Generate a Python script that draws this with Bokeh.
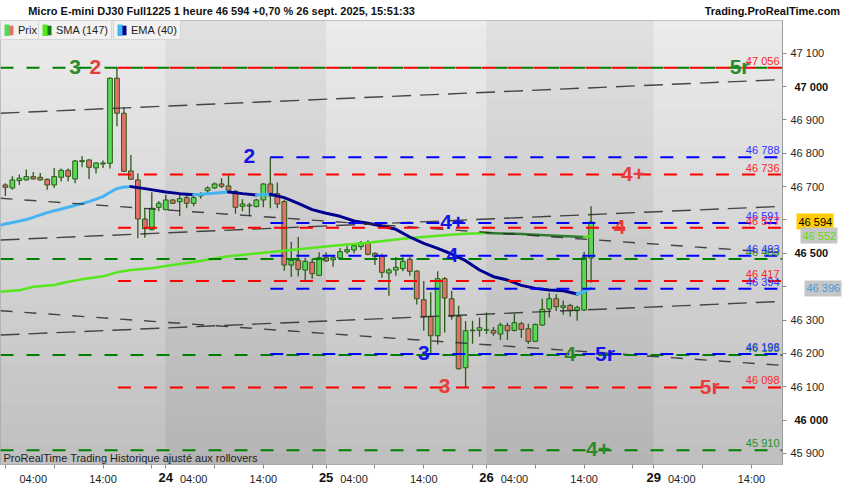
import numpy as np
from bokeh.plotting import figure
from bokeh.models import (ColumnDataSource, Range1d, FixedTicker, Label, Legend,
                          LegendItem, LinearAxis)
from bokeh.core.properties import value
from bokeh.embed import file_html
from bokeh.resources import INLINE

FONT = "Liberation Sans"

# ---------------- data (hourly bars, index 0 = 23 sept 00:00) ----------------
candle_open = [46705, 46696, 46718, 46720, 46730, 46728, 46722, 46705, 46728, 46749,
               46723, 46775, 46780, 46756, 46768, 46770, 47025, 46920, 46747, 46720,
               46603, 46571, 46638, 46631, 46660, 46655, 46667, 46650, 46672, 46688,
               46696, 46708, 46702, 46686, 46641, 46642, 46640, 46660, 46708, 46679,
               46655, 46465, 46479, 46450, 46473, 46434, 46487, 46481, 46486, 46505,
               46510, 46520, 46532, 46500, 46491, 46441, 46450, 46454, 46482, 46447,
               46361, 46311, 46253, 46424, 46364, 46311, 46157, 46268, 46269, 46270,
               46269, 46258, 46284, 46269, 46289, 46274, 46236, 46285, 46333, 46364,
               46338, 46344, 46328, 46330, 46486]
candle_high = [46710, 46731, 46736, 46751, 46744, 46741, 46724, 46756, 46754, 46754,
               46780, 46792, 46782, 46773, 46778, 47027, 47056, 46938, 46795, 46739,
               46635, 46683, 46657, 46676, 46662, 46679, 46679, 46676, 46683, 46701,
               46712, 46725, 46737, 46690, 46662, 46652, 46664, 46710, 46788, 46712,
               46661, 46535, 46549, 46487, 46484, 46503, 46503, 46491, 46516, 46523,
               46529, 46537, 46539, 46503, 46499, 46455, 46489, 46489, 46489, 46449,
               46417, 46383, 46446, 46429, 46388, 46343, 46297, 46298, 46308, 46323,
               46279, 46292, 46292, 46318, 46295, 46289, 46289, 46364, 46381, 46378,
               46359, 46349, 46343, 46505, 46641]
candle_low = [46672, 46691, 46705, 46718, 46721, 46718, 46691, 46696, 46715, 46715,
              46710, 46758, 46723, 46739, 46756, 46754, 46881, 46744, 46720, 46545,
              46547, 46569, 46626, 46629, 46648, 46612, 46635, 46641, 46664, 46676,
              46693, 46696, 46683, 46619, 46626, 46612, 46638, 46638, 46635, 46635,
              46448, 46429, 46431, 46417, 46424, 46432, 46474, 46460, 46484, 46499,
              46500, 46510, 46494, 46465, 46427, 46373, 46433, 46446, 46433, 46347,
              46268, 46200, 46227, 46263, 46301, 46152, 46098, 46229, 46250, 46258,
              46253, 46240, 46240, 46266, 46246, 46229, 46234, 46282, 46308, 46327,
              46316, 46311, 46298, 46327, 46412]
candle_close = [46698, 46720, 46725, 46730, 46723, 46720, 46705, 46730, 46749, 46731,
                46777, 46778, 46758, 46771, 46771, 47025, 46920, 46746, 46722, 46603,
                46574, 46635, 46650, 46660, 46650, 46664, 46650, 46667, 46676, 46696,
                46708, 46701, 46689, 46638, 46648, 46645, 46660, 46708, 46672, 46648,
                46465, 46479, 46452, 46476, 46439, 46487, 46477, 46487, 46505, 46511,
                46523, 46532, 46497, 46491, 46443, 46450, 46458, 46476, 46446, 46364,
                46311, 46253, 46424, 46366, 46311, 46154, 46268, 46270, 46277, 46271,
                46261, 46285, 46268, 46292, 46272, 46236, 46287, 46332, 46364, 46340,
                46343, 46328, 46338, 46487, 46594]

sma_idx = [-1, 0, 2, 4, 7, 9, 11, 14, 16, 18, 21, 23, 27, 32, 37, 41, 47, 52, 57, 62,
           66, 69, 74, 79, 83, 84]
sma_val = [46385, 46386, 46389, 46400, 46405, 46415, 46422, 46431, 46443, 46450, 46455,
           46462, 46474, 46491, 46502, 46510, 46523, 46532, 46544, 46553, 46559, 46561,
           46558, 46553, 46549, 46552]

ema_idx = [-1, 0, 3, 6, 9, 12, 14, 15, 16, 17, 18, 20, 23, 25, 27, 29, 32, 34, 36, 38,
           40, 42, 44, 46, 48, 50, 52, 54, 56, 58, 60, 62, 64, 66, 68, 70, 72, 74, 76,
           78, 80, 82, 83, 84]
ema_val = [46583, 46588, 46601, 46622, 46638, 46655, 46670, 46683, 46694, 46699, 46700,
           46694, 46684, 46679, 46676, 46679, 46684, 46679, 46675, 46677, 46667, 46650,
           46631, 46620, 46611, 46597, 46590, 46582, 46572, 46549, 46530, 46515, 46498,
           46478, 46450, 46430, 46420, 46404, 46395, 46390, 46388, 46378, 46385, 46396]

red_levels = [47056, 46736, 46577, 46417, 46098]
blue_levels = [46788, 46591, 46493, 46394, 46198]
green_levels = [47056, 46483, 46195, 45910]
red_start_idx = 16
blue_start_idx = 38

trend_up_left = [46920, 46540, 46255]
trend_up_right = [47021, 46641, 46356]
trend_down_left = [46665, 46328]
trend_down_right = [46501, 46164]

pivot_text = ["3", "2", "2", "4+", "4+", "4", "4", "3", "4", "5r", "3", "5r", "4+", "5r"]
pivot_level = [47056, 47056, 46788, 46736, 46591, 46577, 46493, 46198, 46195, 46198,
               46098, 46098, 45910, 47056]
pivot_idx = [10.0, 12.9, 35.0, 90.0, 64.1, 88.1, 64.1, 60.0, 81.0, 86.0, 63.0, 101.0,
             85.0, 105.3]
pivot_kind = ["g", "r", "b", "r", "b", "r", "b", "b", "g", "b", "r", "r", "g", "g"]

day_start = [0, 23, 46, 69, 93]
day_label = ["23", "24", "25", "26", "29"]
hour_ticks = [4, 14, 27, 37, 50, 60, 73, 83, 97, 107]
hour_labels = ["04:00", "14:00"] * 5
minor_ticks = [0, 7, 14, 21, 23, 30, 37, 44, 46, 53, 60, 67, 69, 76, 83, 90, 93, 100, 107]
price_ticks = list(range(45900, 47101, 100))
bold_prices = [46000, 46500, 47000]
hidden_prices = [46400, 46600]   # covered by the price tags in the original

last_price = 46594
sma_last = 46552
ema_last = 46396

title_text = "Micro E-mini DJ30 Full1225 1 heure 46 594 +0,70 % 26 sept. 2025, 15:51:33"
site_text = "Trading.ProRealTime.com"
footer_text = "ProRealTime Trading  Historique ajusté aux rollovers"

# ---------------- layout ----------------
FW, FH = 782, 444
TOP, BOTTOM, RIGHT = 20, 18, 52
X_LO, X_HI = -0.70, 111.45
Y_LO, Y_HI = 45867, 47198

GREEN_BODY, RED_BODY, WICK = "#57d957", "#e2716b", "#2c5a18"
LVL = {"r": "#ff0000", "b": "#0000ff", "g": "#008000"}
PIV = {"r": "#e83c3c", "b": "#1414e6", "g": "#2b8a2b"}
TXT = {"r": "#ff2626", "b": "#3030ff", "g": "#23912a"}


def fmt(v):
    return f"{int(v):,}".replace(",", " ")


p = figure(frame_width=FW, frame_height=FH, output_backend="svg", toolbar_location=None,
           title=None, x_range=Range1d(X_LO, X_HI), y_range=Range1d(Y_LO, Y_HI),
           y_axis_location="right", min_border_left=0, min_border_right=RIGHT,
           min_border_top=TOP, min_border_bottom=BOTTOM)
p.grid.visible = False
p.outline_line_color = "#9c9c9c"
p.border_fill_color = "white"
p.background_fill_color = "#d0d0d0"

# day bands with vertical gradient
edges = [X_LO] + day_start[1:] + [X_HI]
n_strip = 45
ys = np.linspace(Y_HI, Y_LO, n_strip + 1)
L, R, T, B, C = [], [], [], [], []
for bi in range(len(edges) - 1):
    top_c, bot_c = (0xec, 0xbf) if bi % 2 == 0 else (0xe1, 0xb4)
    for s in range(n_strip):
        t = (s + 0.5) / n_strip
        g = int(round(top_c + (bot_c - top_c) * t))
        L.append(edges[bi]); R.append(edges[bi + 1])
        T.append(ys[s]); B.append(ys[s + 1])
        C.append(f"#{g:02x}{g:02x}{g:02x}")
p.quad(left=L, right=R, top=T, bottom=B, fill_color=C, line_color=C, line_width=0.6)

# candles
o = np.array(candle_open, float); c = np.array(candle_close, float)
src = ColumnDataSource(dict(x=list(range(len(candle_open))), top=np.maximum(o, c),
                            bottom=np.minimum(o, c), high=candle_high, low=candle_low,
                            fill=np.where(c >= o, GREEN_BODY, RED_BODY)))
p.segment(x0="x", y0="high", x1="x", y1="low", source=src, line_color=WICK, line_width=1.3)
p.vbar(x="x", width=0.68, top="top", bottom="bottom", source=src, fill_color="fill",
       line_color=WICK, line_width=1)


def runs(xs, vs, up_c, down_c):
    out_x, out_y, out_c = [], [], []
    cx, cy, cd = [xs[0]], [vs[0]], None
    for k in range(1, len(xs)):
        d = vs[k] >= vs[k - 1]
        if cd is None or d == cd:
            cx.append(xs[k]); cy.append(vs[k]); cd = d
        else:
            out_x.append(cx); out_y.append(cy); out_c.append(up_c if cd else down_c)
            cx, cy, cd = [xs[k - 1], xs[k]], [vs[k - 1], vs[k]], d
    out_x.append(cx); out_y.append(cy); out_c.append(up_c if cd else down_c)
    return out_x, out_y, out_c


sx, sy, sc = runs(sma_idx, sma_val, "#55e61c", "#2e7d2e")
p.multi_line(xs=sx, ys=sy, line_color=sc, line_width=2.5, line_join="round", line_cap="round")
ex, ey, ec = runs(ema_idx, ema_val, "#45b4f2", "#00008f")
p.multi_line(xs=ex, ys=ey, line_color=ec, line_width=3, line_join="round", line_cap="round")

# trend (channel) lines
nu, nd = len(trend_up_left), len(trend_down_left)
p.segment(x0=[X_LO] * nu, y0=trend_up_left, x1=[X_HI] * nu, y1=trend_up_right,
          line_color="#2a2a2a", line_width=1.4, line_alpha=0.85, line_dash="19 9")
p.segment(x0=[X_LO] * nd, y0=trend_down_left, x1=[X_HI] * nd, y1=trend_down_right,
          line_color="#2a2a2a", line_width=1.4, line_alpha=0.85, line_dash="12 12")

# level lines
ppx = FW / (X_HI - X_LO)
ng = len(green_levels)
p.segment(x0=[X_LO] * ng, y0=green_levels, x1=[X_HI] * ng, y1=green_levels,
          line_color=LVL["g"], line_width=2, line_dash="13 13")
phase = ((red_start_idx - X_LO) * ppx) % 26
nr = len(red_levels)
p.segment(x0=[red_start_idx] * nr, y0=red_levels, x1=[X_HI] * nr, y1=red_levels,
          line_color=LVL["r"], line_width=2, line_dash="13 13",
          line_dash_offset=int(round((phase + 13) % 26)))
nb = len(blue_levels)
p.segment(x0=[blue_start_idx] * nb, y0=blue_levels, x1=[X_HI] * nb, y1=blue_levels,
          line_color=LVL["b"], line_width=2, line_dash="13 13")

# right-side level values
for levels, k in ((green_levels[1:], "g"), (blue_levels, "b"), (red_levels, "r")):
    p.text(x=[X_HI] * len(levels), y=levels, text=[fmt(v) for v in levels],
           text_color=TXT[k], text_align="right", text_baseline="bottom",
           x_offset=-3, y_offset=-1, text_font=value(FONT), text_font_size="11px")

# pivot labels
p.text(x=pivot_idx, y=pivot_level, text=pivot_text, text_color=[PIV[k] for k in pivot_kind],
       text_align="center", text_baseline="middle", y_offset=-1,
       text_font=value(FONT), text_font_size="21px", text_font_style="bold")

# footer note inside the frame
p.add_layout(Label(x=3, y=1, x_units="screen", y_units="screen", text=footer_text,
                   text_font=FONT, text_font_size="11px", text_color="#1e1e1e",
                   text_baseline="bottom"))

# ---------------- x axes ----------------
xa = p.xaxis[0]
xa.ticker = FixedTicker(ticks=hour_ticks, minor_ticks=minor_ticks)
xa.major_label_overrides = {t: s for t, s in zip(hour_ticks, hour_labels)}
xa.major_tick_out = 0
xa.major_tick_in = 0
xa.minor_tick_out = 4
xa.minor_tick_in = 0
xa.minor_tick_line_color = "#8a8a8a"
xa.axis_line_color = None
xa.major_label_standoff = 4
xa.major_label_text_font = FONT
xa.major_label_text_font_size = "11px"
xa.major_label_text_color = "#1e1e1e"

days_ax = LinearAxis(ticker=FixedTicker(ticks=day_start[1:]),
                     major_label_overrides={d: s for d, s in zip(day_start[1:], day_label[1:])},
                     major_tick_out=0, major_tick_in=0, minor_tick_out=0, minor_tick_in=0,
                     axis_line_color=None, major_label_standoff=-15,
                     major_label_text_font=FONT, major_label_text_font_size="13px",
                     major_label_text_font_style="bold", major_label_text_color="#111111")
p.add_layout(days_ax, "below")

# header line (texts above the frame)
head_ticks = [31, 110]
head_ax = LinearAxis(ticker=FixedTicker(ticks=head_ticks),
                     major_label_overrides={head_ticks[0]: title_text, head_ticks[1]: site_text},
                     major_tick_out=0, major_tick_in=0, minor_tick_out=0, minor_tick_in=0,
                     axis_line_color=None, major_label_standoff=4,
                     major_label_text_font=FONT, major_label_text_font_size="11px",
                     major_label_text_font_style="bold", major_label_text_color="#111111")
p.add_layout(head_ax, "above")

# ---------------- y axes ----------------
ya = p.yaxis[0]
ya.ticker = FixedTicker(ticks=price_ticks)
ya.major_label_overrides = {t: ("" if (t in bold_prices or t in hidden_prices) else fmt(t))
                            for t in price_ticks}
ya.major_tick_out = 4
ya.major_tick_in = 0
ya.minor_tick_out = 0
ya.minor_tick_in = 0
ya.major_tick_line_color = "#8a8a8a"
ya.axis_line_color = "#9c9c9c"
ya.major_label_standoff = 4
ya.major_label_text_font = FONT
ya.major_label_text_font_size = "11px"
ya.major_label_text_color = "#1e1e1e"

bold_ax = LinearAxis(ticker=FixedTicker(ticks=bold_prices),
                     major_label_overrides={t: fmt(t) for t in bold_prices},
                     major_tick_out=0, major_tick_in=0, minor_tick_out=0, minor_tick_in=0,
                     axis_line_color=None, major_label_standoff=-33,
                     major_label_text_font=FONT, major_label_text_font_size="11px",
                     major_label_text_font_style="bold", major_label_text_color="#111111")
p.add_layout(bold_ax, "right")

# price tags on the axis: a thick tick is the box, its label is the value
for pv, bg, fg in ((last_price, "#ffcc00", "#000000"),
                   (sma_last, "#c6c6c6", "#5fdc14"),
                   (ema_last, "#c6c6c6", "#3a9ee0")):
    box_ax = LinearAxis(ticker=FixedTicker(ticks=[pv]), major_label_overrides={pv: fmt(pv)},
                        major_tick_out=2, major_tick_in=35, minor_tick_out=0, minor_tick_in=0,
                        major_tick_line_color=bg, major_tick_line_width=16,
                        axis_line_color=None, major_label_standoff=-35,
                        major_label_text_font=FONT, major_label_text_font_size="11px",
                        major_label_text_color=fg)
    p.add_layout(box_ax, "right")

# legend boxes (swatch renderers hold one point outside the visible range)
def swatch(left_c, right_c):
    q = p.quad(left=[X_LO - 5], right=[X_LO - 4], top=[Y_LO], bottom=[Y_LO - 1],
               fill_color=right_c, line_color=None)
    ln = p.line(x=[X_LO - 5, X_LO - 4], y=[Y_LO, Y_LO], line_color=left_c,
                line_width=12, line_dash="5 5")
    return [q, ln]


for xloc, lab, lc, rc in ((0, "Prix", "#57d957", "#e2716b"),
                          (38, "SMA (147)", "#55e61c", "#127a12"),
                          (113, "EMA (40)", "#45b4f2", "#00008f")):
    leg = Legend(items=[LegendItem(label=lab, renderers=swatch(lc, rc))],
                 location=(xloc, FH - 20), orientation="horizontal",
                 background_fill_color="#f2f2f2", background_fill_alpha=1,
                 border_line_color="#b8b8b8", padding=3, margin=0, spacing=0,
                 label_text_font=FONT, label_text_font_size="11px",
                 label_text_color="#1e1e1e", label_standoff=4, glyph_width=10,
                 glyph_height=12, label_height=12)
    p.add_layout(leg)

open("out.html", "w").write(file_html(p, INLINE))
